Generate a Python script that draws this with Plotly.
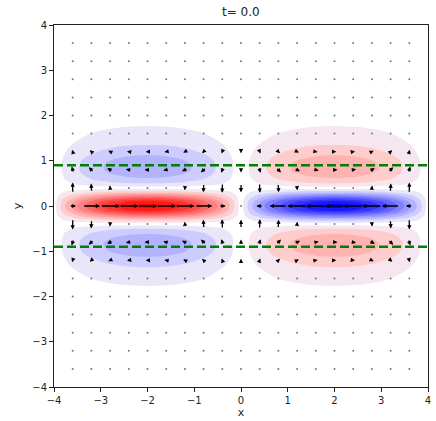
import numpy as np
import plotly.graph_objects as go

# ---------------- scalar field (filled contours) ----------------
# lobe centres and signs
lobe_centres = [-2.0, 2.0]
lobe_signs = [1.0, -1.0]

# profiles along x, sampled at offsets 0, 0.2, ..., 2.0 from a lobe centre
x_offsets = [0.0, 0.2, 0.4, 0.6, 0.8, 1.0, 1.2, 1.4, 1.6, 1.8, 2.0]
core_x_half = [1.00, 0.99, 0.96, 0.91, 0.84, 0.75, 0.64, 0.52, 0.38, 0.22, 0.0]
lobe_x_half = [1.00, 0.99, 0.96, 0.91, 0.84, 0.75, 0.64, 0.51, 0.36, 0.19, 0.0]

# profiles along y, sampled at y = 0, 0.1, ..., 2.0
y_half = [round(0.1 * i, 1) for i in range(21)]
core_y_half = [1.0, 0.88, 0.58, 0.26, 0.07, 0.01, 0, 0, 0, 0, 0,
               0, 0, 0, 0, 0, 0, 0, 0, 0, 0]
lobe_y_half = [0, 0, -0.01, -0.03, -0.08, -0.16, -0.24, -0.29, -0.32, -0.32, -0.30,
               -0.26, -0.21, -0.17, -0.13, -0.10, -0.08, -0.06, -0.045, -0.025, 0]

# ---------------- velocity field (quiver) ----------------
grid = [-3.6, -3.2, -2.8, -2.4, -2.0, -1.6, -1.2, -0.8, -0.4, 0.0,
        0.4, 0.8, 1.2, 1.6, 2.0, 2.4, 2.8, 3.2, 3.6]
u_x = [0.35, 0.9, 1.0, 1.0, 1.0, 1.0, 1.0, 0.9, 0.35, 0.0,
       -0.35, -0.9, -1.0, -1.0, -1.0, -1.0, -1.0, -0.9, -0.35]
u_y = [0, 0, 0, 0, -0.01, -0.05, -0.18, -0.30, -0.03, 1.0,
       -0.03, -0.30, -0.18, -0.05, -0.01, 0, 0, 0, 0]
v_x = [0.55, 0.45, 0.25, 0.1, 0.0, -0.1, -0.25, -0.45, -0.5, -0.45,
       -0.5, -0.45, -0.25, -0.1, 0.0, 0.1, 0.25, 0.45, 0.55]
v_y = [0, 0, 0, 0, -0.02, -0.10, -0.35, -0.60, -1.0, 0,
       1.0, 0.60, 0.35, 0.10, 0.02, 0, 0, 0, 0]

# critical latitudes
y_crit = [0.9, -0.9]

# ---------------- build field table ----------------
def x_profile(half, sign_left, sign_right):
    h = np.array(half)
    left = np.concatenate([h[::-1], h[1:]])          # x = -4 .. 0
    right = np.concatenate([h[::-1][1:], h[1:]])      # x = 0.2 .. 4
    return np.concatenate([sign_left * left, sign_right * right])

xs = np.round(np.arange(-4.0, 4.0001, 0.2), 2)
core_x = x_profile(core_x_half, lobe_signs[0], lobe_signs[1])
lobe_x = x_profile(lobe_x_half, lobe_signs[0], lobe_signs[1])

def y_profile(half):
    h = np.array(half, dtype=float)
    return np.concatenate([h[::-1][:-1], h])

ys = np.concatenate([-np.array(y_half[::-1][:-1]), np.array(y_half)])
core_y = y_profile(core_y_half)
lobe_y = y_profile(lobe_y_half)

Z = np.outer(core_y, core_x) + np.outer(lobe_y, lobe_x)

# pad with zeros so the contour perimeter lies outside the axes
xs_p = np.concatenate([[-4.6, -4.3], xs, [4.3, 4.6]])
ys_p = np.concatenate([[-4.6, -3.0], ys, [3.0, 4.6]])
Z_p = np.pad(Z, ((2, 2), (2, 2)))

# colour of each filled band, keyed by band midpoint
START, END, SIZE = -1.05, 1.05, 0.1
def bwr(z):
    if z <= 0:
        t = 1 + z
        return (255 * t, 255 * t, 255)
    return (255, 255 * (1 - z), 255 * (1 - z))

mids = [round(-1.1 + 0.1 * i, 2) for i in range(23)]
colorscale = []
lo, hi = START - SIZE / 2, END + SIZE / 2
for m in mids:
    if abs(m + 0.1) < 1e-9:
        c = (232, 230, 248)
    elif abs(m - 0.1) < 1e-9:
        c = (246, 230, 240)
    else:
        c = bwr(max(-1, min(1, m)))
    colorscale.append([(m - lo) / (hi - lo), "rgb(%d,%d,%d)" % tuple(int(round(v)) for v in c)])
colorscale[0][0] = 0.0
colorscale[-1][0] = 1.0

fig = go.Figure()
fig.add_trace(go.Contour(
    x=xs_p, y=ys_p, z=Z_p,
    autocontour=False,
    contours=dict(start=START, end=END, size=SIZE, coloring="fill", showlines=False),
    line=dict(width=0, smoothing=1.0),
    colorscale=colorscale, showscale=False, hoverinfo="skip",
))

# ---------------- dashed lines ----------------
for yc in y_crit:
    fig.add_trace(go.Scatter(
        x=[-4, 4], y=[yc, yc], mode="lines",
        line=dict(color="rgb(0,128,0)", width=2.5, dash="9px,4px"),
        hoverinfo="skip", showlegend=False,
    ))

# ---------------- quiver ----------------
W, H = 436, 421
ML, MR, MT, MB = 54, 5, 25, 32
px_x = (W - ML - MR) / 8.0
px_y = (H - MT - MB) / 8.0
K = 19.5          # pixels per unit of velocity
THRESH = 0.12

U = np.outer(u_y, u_x)
V = np.outer(v_y, v_x)
dot_x, dot_y = [], []
annotations = []
for j, yv in enumerate(grid):
    for i, xv in enumerate(grid):
        u, v = U[j, i], V[j, i]
        mag = np.hypot(u, v)
        if mag < THRESH:
            dot_x.append(xv)
            dot_y.append(yv)
            continue
        dx = K * u / px_x
        dy = K * v / px_y
        annotations.append(dict(
            x=xv + dx / 2, y=yv + dy / 2, ax=xv - dx / 2, ay=yv - dy / 2,
            xref="x", yref="y", axref="x", ayref="y",
            text="", showarrow=True, arrowhead=2, arrowsize=0.65,
            arrowwidth=1.3, arrowcolor="black", standoff=0, startstandoff=0,
        ))

fig.add_trace(go.Scatter(
    x=dot_x, y=dot_y, mode="markers",
    marker=dict(size=2, color="#777"), hoverinfo="skip", showlegend=False,
))

annotations.append(dict(
    text="t= 0.0", x=0.5, y=1, xref="paper", yref="paper",
    xanchor="center", yanchor="bottom", yshift=4, showarrow=False,
    font=dict(size=12, color="#222"),
))

axis_common = dict(
    range=[-4, 4], tickmode="array", tickvals=[-4, -3, -2, -1, 0, 1, 2, 3, 4],
    ticks="outside", ticklen=4, tickwidth=1, tickcolor="#222",
    showline=True, linecolor="#222", linewidth=1, mirror=True,
    showgrid=False, zeroline=False,
    tickfont=dict(size=10, color="#222"),
)

fig.update_layout(
    width=W, height=H,
    margin=dict(l=ML, r=MR, t=MT, b=MB),
    paper_bgcolor="white", plot_bgcolor="white",
    font=dict(family="DejaVu Sans", color="#222"),
    showlegend=False,
    annotations=annotations,
    xaxis=dict(axis_common, title=dict(text="x", font=dict(size=11), standoff=2)),
    yaxis=dict(axis_common, title=dict(text="y", font=dict(size=11), standoff=8)),
)

fig.write_html("out.html")
